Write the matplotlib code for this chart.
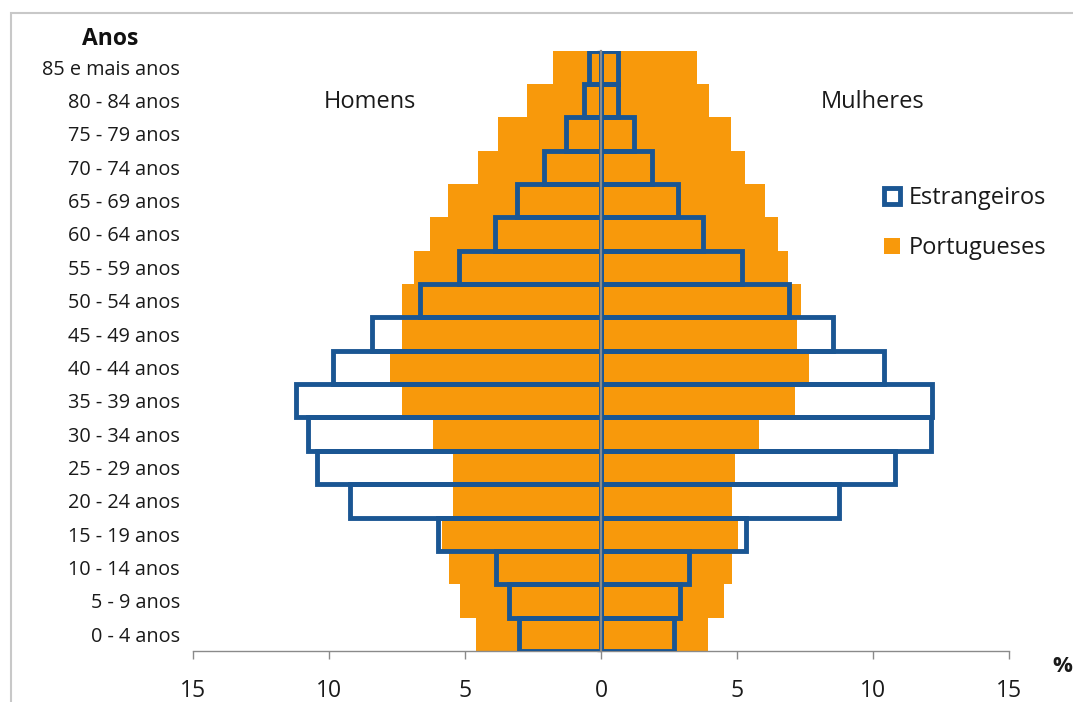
import matplotlib
matplotlib.use("Agg")
import matplotlib.pyplot as plt
from matplotlib.patches import Patch, Rectangle
from matplotlib.transforms import blended_transform_factory
import numpy as np

plt.rcParams['font.family'] = ['Open Sans', 'DejaVu Sans']

categories = ["0 - 4 anos", "5 - 9 anos", "10 - 14 anos", "15 - 19 anos",
              "20 - 24 anos", "25 - 29 anos", "30 - 34 anos", "35 - 39 anos",
              "40 - 44 anos", "45 - 49 anos", "50 - 54 anos", "55 - 59 anos",
              "60 - 64 anos", "65 - 69 anos", "70 - 74 anos", "75 - 79 anos",
              "80 - 84 anos", "85 e mais anos"]

port_homens = [4.60, 5.17, 5.60, 5.86, 5.45, 5.45, 6.17, 7.30, 7.76, 7.30,
               7.33, 6.86, 6.28, 5.61, 4.53, 3.78, 2.73, 1.78]
estr_homens = [3.00, 3.39, 3.86, 6.00, 9.23, 10.44, 10.78, 11.21, 9.86, 8.42,
               6.64, 5.21, 3.89, 3.09, 2.08, 1.29, 0.61, 0.43]
port_mulheres = [3.94, 4.52, 4.80, 5.05, 4.83, 4.93, 5.81, 7.13, 7.65, 7.19,
                 7.34, 6.86, 6.50, 6.03, 5.29, 4.78, 3.97, 3.54]
estr_mulheres = [2.70, 2.91, 3.25, 5.32, 8.75, 10.82, 12.12, 12.18, 10.40, 8.54,
                 6.91, 5.17, 3.76, 2.84, 1.86, 1.21, 0.64, 0.64]

xticks = [-15, -10, -5, 0, 5, 10, 15]
xticklabels = ["15", "10", "5", "0", "5", "10", "15"]

ORANGE = "#F8990B"
BLUE = "#1A5693"
GRAY = "#8A8A8A"
TXT = "#1A1A1A"

W, H = 1073, 702
fig = plt.figure(figsize=(W / 100, H / 100), dpi=100)
ax = fig.add_axes([193 / W, 51 / H, 816 / W, 600.5 / H])

y = np.arange(len(categories))
eh = -np.array(estr_homens)
em = np.array(estr_mulheres)
ph = -np.array(port_homens)
pm = np.array(port_mulheres)

# white fill of foreigners bars (behind)
ax.barh(y, eh, height=1.0, color="white", zorder=1)
ax.barh(y, em, height=1.0, color="white", zorder=1)
# Portuguese bars
ax.barh(y, ph, height=1.0, color=ORANGE, zorder=2, linewidth=0)
ax.barh(y, pm, height=1.0, color=ORANGE, zorder=2, linewidth=0)
# outline of foreigners bars
ax.barh(y, eh, height=1.0, fill=False, edgecolor=BLUE, linewidth=3.5, zorder=3)
ax.barh(y, em, height=1.0, fill=False, edgecolor=BLUE, linewidth=3.5, zorder=3)

ax.set_xlim(-15, 15)
ax.set_ylim(-0.5, len(categories) - 0.5)

for s in ["top", "right"]:
    ax.spines[s].set_visible(False)
ax.spines["left"].set_position(("data", 0))
ax.spines["left"].set_color(GRAY)
ax.spines["left"].set_linewidth(1.6)
ax.spines["left"].set_zorder(4)
ax.spines["bottom"].set_color(GRAY)
ax.spines["bottom"].set_linewidth(1.0)

ax.set_yticks(np.arange(len(categories) + 1) - 0.5)
ax.set_yticklabels([])
ax.tick_params(axis="y", length=3, width=1, color=GRAY, direction="out")

ax.set_xticks(xticks)
ax.set_xticklabels(xticklabels)
ax.tick_params(axis="x", length=6, width=1, color=GRAY, direction="out",
               pad=14, labelsize=16.5, labelcolor=TXT)

trans = blended_transform_factory(ax.transAxes, ax.transData)
for yi, lab in zip(y, categories):
    ax.text(-0.016, yi, lab, transform=trans, ha="right", va="center_baseline",
            fontsize=14.3, color=TXT)

fig.text(110 / W, 1 - 39 / H, "Anos", ha="center", va="center",
         fontsize=16.5, fontweight="bold", color="#111111")
fig.text(370 / W, 1 - 102 / H, "Homens", ha="center", va="center",
         fontsize=17, color=TXT)
fig.text(873 / W, 1 - 102 / H, "Mulheres", ha="center", va="center",
         fontsize=17, color=TXT)
fig.text(1062 / W, 1 - 667 / H, "%", ha="center", va="center",
         fontsize=16, fontweight="bold", color=TXT)

handles = [Patch(facecolor="white", edgecolor=BLUE, linewidth=3.5, label="Estrangeiros"),
           Patch(facecolor=ORANGE, edgecolor="none", label="Portugueses")]
fig.legend(handles=handles, loc="upper left",
           bbox_to_anchor=(884 / W, 1 - 186 / H), frameon=False,
           fontsize=17, handlelength=0.68, handleheight=0.68,
           handletextpad=0.35, labelspacing=1.1, borderpad=0, borderaxespad=0,
           labelcolor=TXT)

frame = Rectangle((11 / W, -0.5), 2.0, 0.5 + 1 - 13 / H, transform=fig.transFigure,
                  fill=False, edgecolor="#C8C8C8", linewidth=1.5, clip_on=False)
fig.add_artist(frame)

fig.savefig("out.png", dpi=100)
